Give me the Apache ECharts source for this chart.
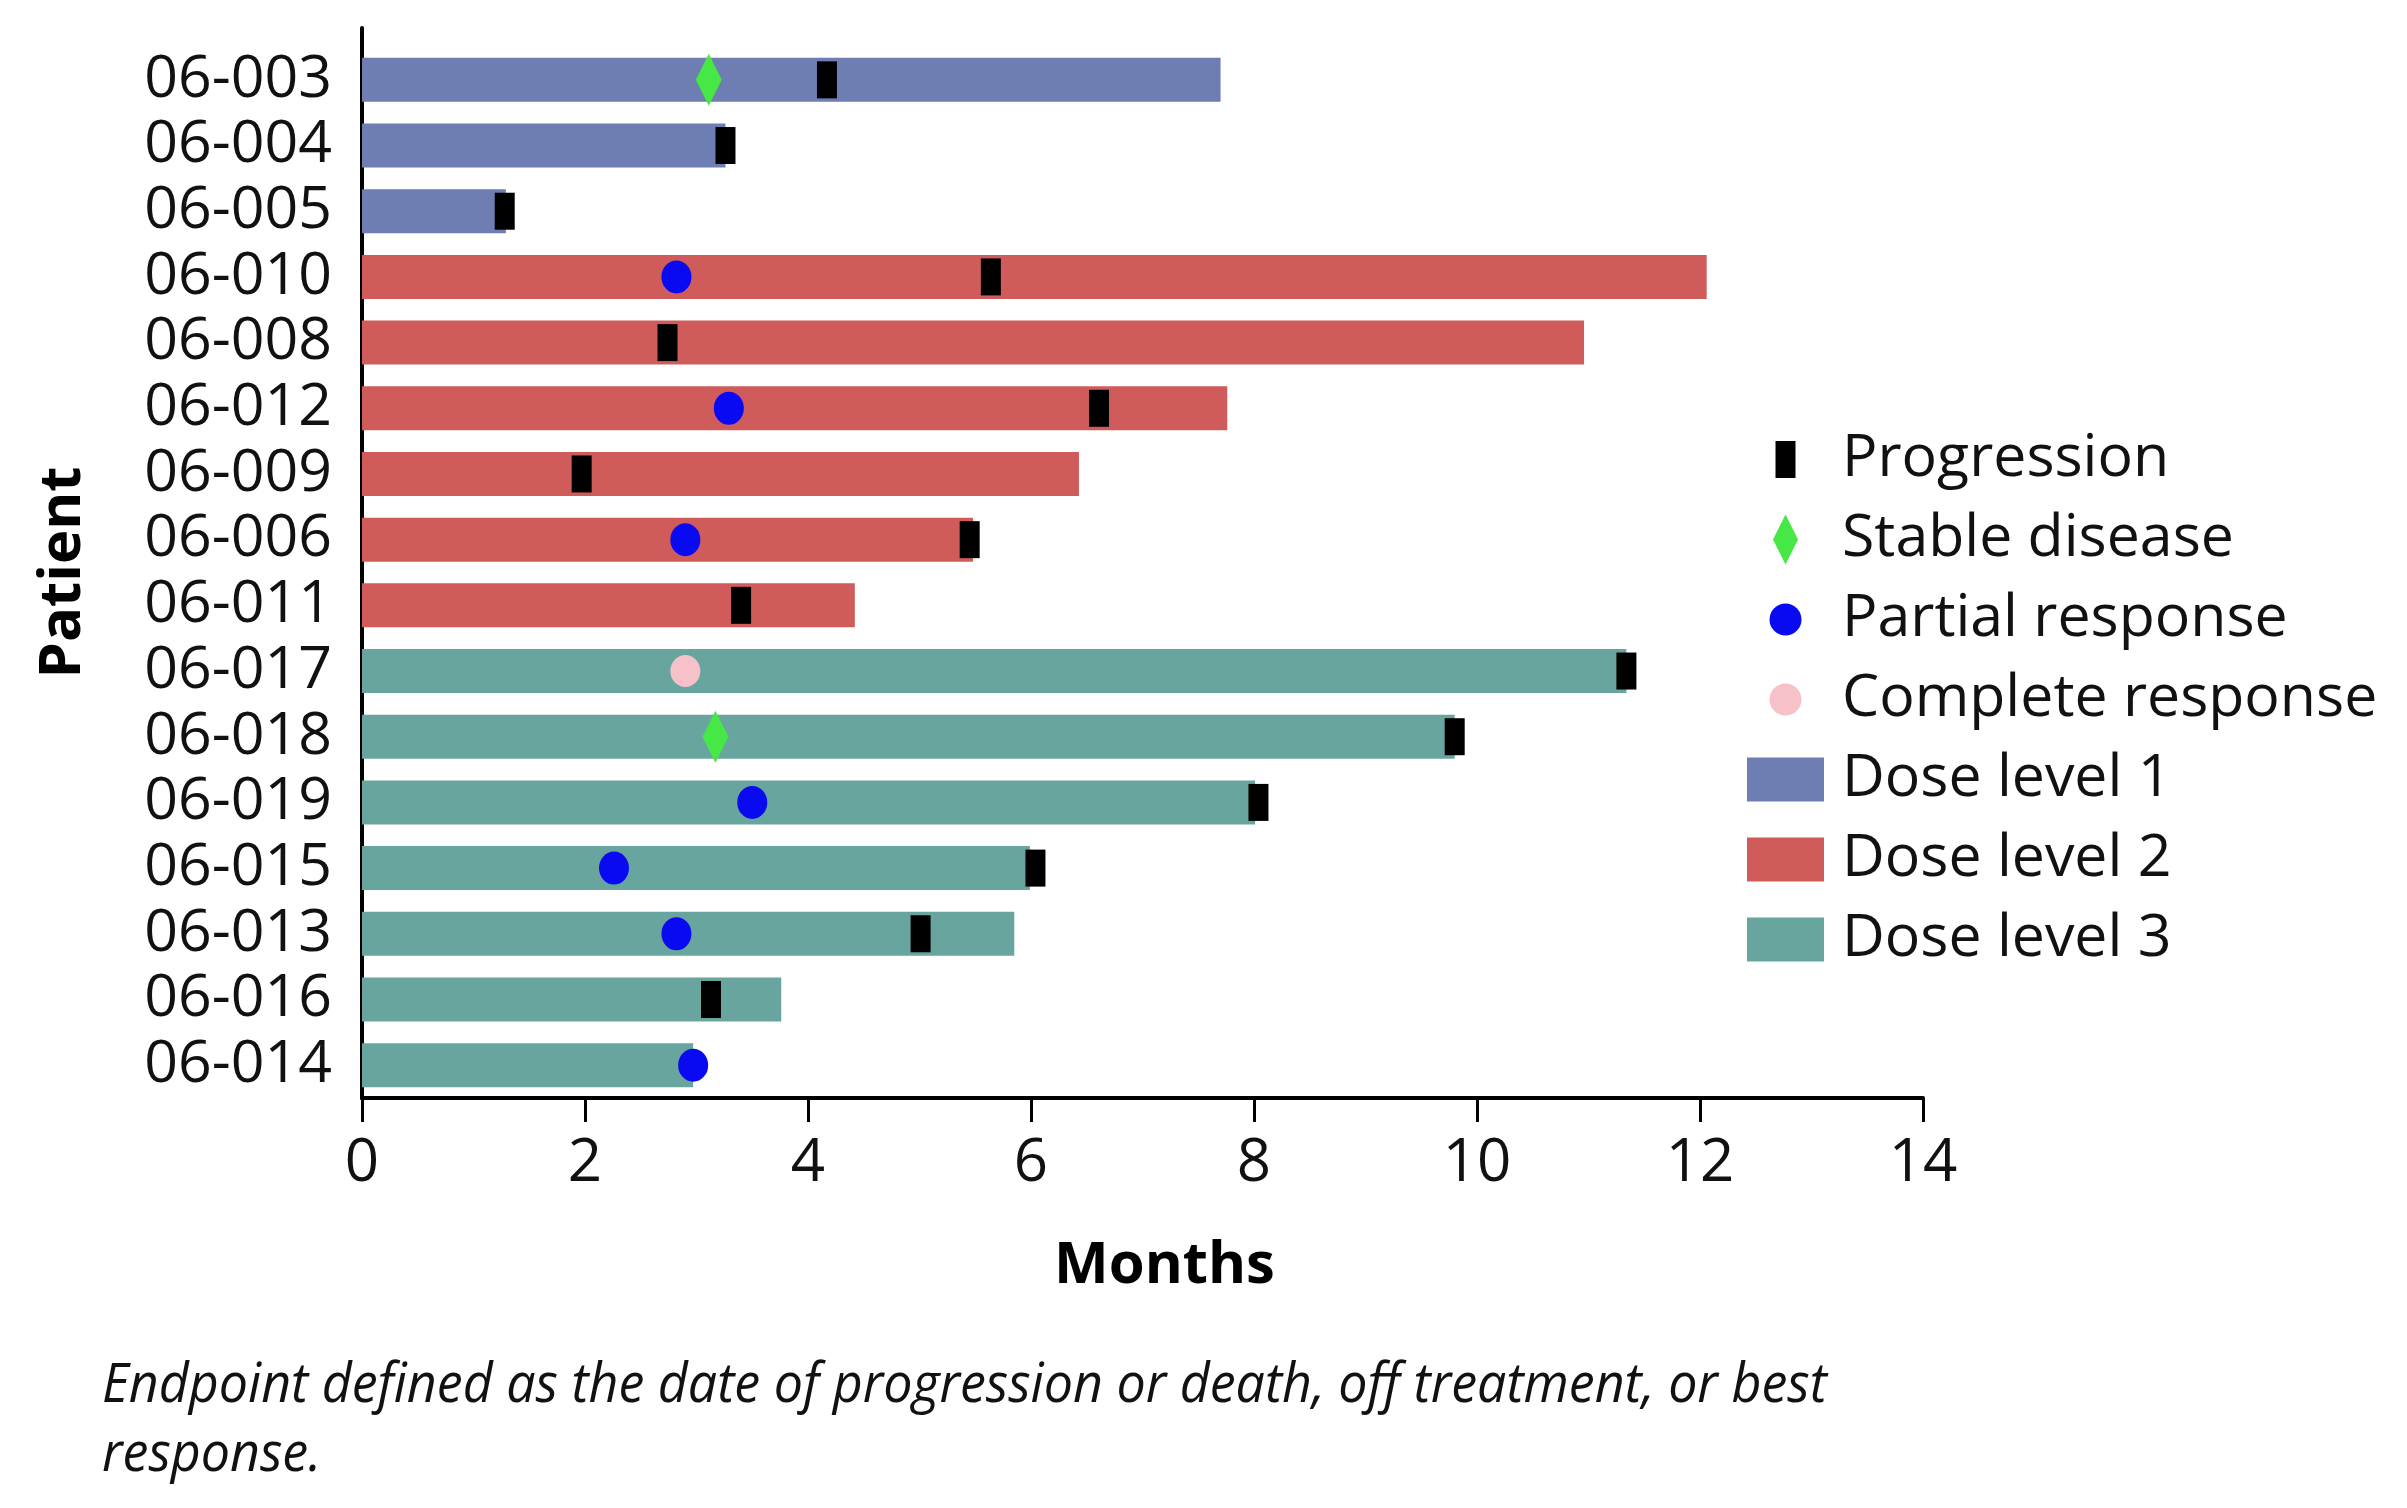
<!DOCTYPE html>
<html><head><meta charset="utf-8">
<script src="https://cdn.jsdelivr.net/npm/echarts@6/dist/echarts.min.js"></script>
<style>html,body{margin:0;padding:0;background:#fff}#c{width:2407px;height:1508px}</style>
</head><body><div id="c"></div>
<script>
const patients = ['06-003','06-004','06-005','06-010','06-008','06-012','06-009','06-006','06-011','06-017','06-018','06-019','06-015','06-013','06-016','06-014'];
const doseLevel = [1,1,1,2,2,2,2,2,2,3,3,3,3,3,3,3];
const monthsOnStudy = [7.70,3.26,1.29,12.06,10.96,7.76,6.43,5.48,4.42,11.34,9.80,8.01,5.99,5.85,3.76,2.97];
const progressionMonths = [4.17,3.26,1.28,5.64,2.74,6.61,1.97,5.45,3.40,11.34,9.80,8.04,6.04,5.01,3.13,null];
const stablePatients = ['06-003','06-018'];
const stableMonths = [3.11,3.17];
const partialPatients = ['06-010','06-012','06-006','06-019','06-015','06-013','06-014'];
const partialMonths = [2.82,3.29,2.90,3.50,2.26,2.82,2.97];
const completePatients = ['06-017'];
const completeMonths = [2.90];
const doseNames = ['Dose level 1','Dose level 2','Dose level 3'];
const doseColors = ['#6e7db2','#cf5b5b','#68a59f'];
const footnote = 'Endpoint defined as the date of progression or death, off treatment, or best\nresponse.';

const FONT = '"Open Sans", "Noto Sans", sans-serif';
const BOX = 'M0 0L0 0M77 50L77 50';
const iconProg = 'path://' + BOX + 'M28.5 6.5H48.5V43.5H28.5Z';
const iconDiamond = 'path://' + BOX + 'M38.5 0L51 25L38.5 50L26 25Z';
const iconCircle = 'path://' + BOX + 'M22.5 25A16 16 0 1 1 54.5 25A16 16 0 1 1 22.5 25Z';
const iconRect = 'path://' + BOX + 'M0 3H77V47H0Z';

const barSeries = doseNames.map((name, d) => ({
  name: name, type: 'bar', barWidth: 44, barGap: '-100%',
  itemStyle: { color: doseColors[d] },
  data: patients.map((p, i) => doseLevel[i] === d + 1 ? monthsOnStudy[i] : '-'),
  z: 2
}));

const progData = [];
patients.forEach((p, i) => { if (progressionMonths[i] != null) progData.push([progressionMonths[i], p]); });

const chart = echarts.init(document.getElementById('c'), null, { renderer: 'canvas' });
chart.setOption({
  animation: false,
  backgroundColor: '#ffffff',
  grid: [
    { left: 362, right: 484, top: 47, bottom: 410, outerBoundsMode: 'none' },
    { left: 362, right: 484, top: 28, bottom: 410, outerBoundsMode: 'none' }
  ],
  xAxis: [{
    type: 'value', min: 0, max: 14, interval: 2, gridIndex: 0,
    name: 'Months', nameLocation: 'middle', nameGap: 139,
    nameTextStyle: { fontFamily: FONT, fontSize: 58, fontWeight: 'bold', color: '#000', padding: [0, 0, 0, 44] },
    axisLine: { show: true, lineStyle: { color: '#000', width: 4 } },
    axisTick: { show: true, length: 24, lineStyle: { color: '#000', width: 3 } },
    axisLabel: { fontFamily: FONT, fontSize: 60, color: '#111', margin: 36 },
    splitLine: { show: false }
  }, {
    type: 'value', gridIndex: 1, show: false, min: 0, max: 14
  }],
  yAxis: [{
    type: 'category', data: patients, inverse: true, gridIndex: 0,
    name: 'Patient', nameLocation: 'middle', nameGap: 270, nameRotate: 90,
    nameTextStyle: { fontFamily: FONT, fontSize: 58, fontWeight: 'bold', color: '#000' },
    axisLine: { show: true, lineStyle: { color: '#000', width: 4 } },
    axisTick: { show: false },
    axisLabel: { fontFamily: FONT, fontSize: 59, color: '#111', margin: 30, interval: 0 },
    splitLine: { show: false }
  }, {
    type: 'value', gridIndex: 1, min: 0, max: 1,
    axisLine: { show: true, lineStyle: { color: '#000', width: 4 } },
    axisTick: { show: false }, axisLabel: { show: false }, splitLine: { show: false }
  }],
  legend: {
    orient: 'vertical', left: 1742, top: 425,
    itemWidth: 77, itemHeight: 50, itemGap: 21, selectedMode: false,
    textStyle: { fontFamily: FONT, fontSize: 59, color: '#111', padding: [0, 0, 0, 13] },
    data: [
      { name: 'Progression', icon: iconProg },
      { name: 'Stable disease', icon: iconDiamond },
      { name: 'Partial response', icon: iconCircle },
      { name: 'Complete response', icon: iconCircle },
      { name: 'Dose level 1', icon: iconRect },
      { name: 'Dose level 2', icon: iconRect },
      { name: 'Dose level 3', icon: iconRect }
    ]
  },
  series: barSeries.concat([
    { name: 'Partial response', type: 'scatter', symbol: 'circle', symbolSize: [30, 33],
      itemStyle: { color: '#0a0af2', opacity: 1 }, z: 4,
      data: partialPatients.map((p, i) => [partialMonths[i], p]) },
    { name: 'Complete response', type: 'scatter', symbol: 'circle', symbolSize: [30, 32],
      itemStyle: { color: '#f7c1c9', opacity: 1 }, z: 4,
      data: completePatients.map((p, i) => [completeMonths[i], p]) },
    { name: 'Stable disease', type: 'scatter', symbol: 'diamond', symbolSize: [26, 52],
      itemStyle: { color: '#45e845', opacity: 1 }, z: 4,
      data: stablePatients.map((p, i) => [stableMonths[i], p]) },
    { name: 'Progression', type: 'scatter', symbol: 'rect', symbolSize: [20, 37],
      itemStyle: { color: '#000', opacity: 1 }, z: 5,
      data: progData }
  ]),
  graphic: [{
    type: 'text', x: 102, y: 1352, scaleX: 0.962,
    style: { text: footnote, font: 'italic 54px ' + FONT, fill: '#111', lineHeight: 69, verticalAlign: 'top' }
  }]
});
</script></body></html>
